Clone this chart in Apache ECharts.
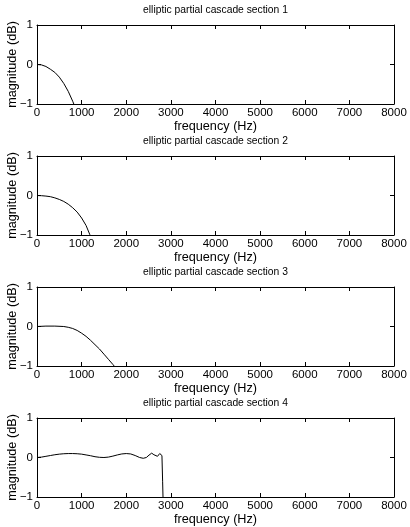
<!DOCTYPE html>
<html>
<head>
<meta charset="utf-8">
<script src="https://cdn.jsdelivr.net/npm/echarts@6/dist/echarts.min.js"></script>
<style>
html,body{margin:0;padding:0;background:#fff;}
#chart{width:410px;height:527px;}
</style>
</head>
<body>
<div id="chart"></div>
<script>
// ---- data ----
var titles = ['elliptic partial cascade section 1','elliptic partial cascade section 2','elliptic partial cascade section 3','elliptic partial cascade section 4'];
var xName = 'frequency (Hz)';
var yName = 'magnitude (dB)';
var xTicks = [0,1000,2000,3000,4000,5000,6000,7000,8000];
var yTicks = [-1,0,1];

var freq1 = [0,100,200,300,400,500,600,700,800,850,900];
var mag1  = [0,-0.01,-0.05,-0.12,-0.20,-0.32,-0.48,-0.68,-0.93,-1.07,-1.2];

var freq2 = [0,100,200,300,400,500,600,700,800,900,1000,1100,1180,1250];
var mag2  = [0,-0.005,-0.015,-0.03,-0.06,-0.10,-0.15,-0.22,-0.31,-0.42,-0.57,-0.76,-0.98,-1.2];

var freq3 = [0,200,400,600,700,800,900,1000,1100,1200,1300,1400,1500,1600,1700,1740,1800];
var mag3  = [0,0.01,0.01,0.0,-0.02,-0.05,-0.10,-0.17,-0.25,-0.35,-0.46,-0.57,-0.70,-0.83,-0.96,-1.0,-1.1];

var freq4 = [0,100,200,300,400,500,600,700,800,900,1000,1100,1200,1300,1400,1500,1600,1700,1800,1900,2000,2100,2200,2300,2380,2450,2510,2570,2620,2660,2700,2750,2780,2800,2815,2830];
var mag4  = [0,0.01,0.03,0.05,0.07,0.085,0.095,0.10,0.10,0.095,0.085,0.065,0.045,0.02,0.005,0.0,0.01,0.035,0.065,0.09,0.10,0.09,0.05,0.0,-0.02,0.0,0.06,0.11,0.07,0.02,0.03,0.10,0.12,0.05,-0.6,-1.3];

var freqs = [freq1,freq2,freq3,freq4];
var mags = [mag1,mag2,mag3,mag4];

// ---- layout ----
var FONT = "'Liberation Sans', Arial, sans-serif";
var TICKFONT = "'Liberation Sans Narrow', 'Arial Narrow', 'Liberation Sans', sans-serif";
var tops = [25,156,287,418];
var gLeft = 37, gWidth = 357, gHeight = 79;

var grid = [], xAxis = [], yAxis = [], series = [], title = [], graphic = [];
var lineStyle = {color:'#000', width:1};
tops.forEach(function(t,i){
  grid.push({left:gLeft, top:t, width:gWidth, height:gHeight, containLabel:false, outerBoundsMode:'none'});
  title.push({text:titles[i], left:gLeft+gWidth/2, top:t-20, textAlign:'center', padding:0,
    textStyle:{fontFamily:FONT, fontSize:10.3, fontWeight:'normal', color:'#000'}});
  graphic.push({type:'text', x:12, y:t+gHeight/2, rotation:Math.PI/2, silent:true,
    style:{text:yName, fontFamily:FONT, fontSize:12.7, fill:'#000', align:'center', verticalAlign:'middle'}});
  var xBase = {gridIndex:i, type:'value', min:xTicks[0], max:xTicks[xTicks.length-1], interval:xTicks[1]-xTicks[0],
    axisLine:{show:true, onZero:false, lineStyle:lineStyle}, axisTick:{show:true, inside:true, length:4, lineStyle:lineStyle},
    splitLine:{show:false}};
  xAxis.push(Object.assign({}, xBase, {position:'bottom',
    axisLabel:{show:true, margin:3, fontFamily:TICKFONT, fontSize:11.5, color:'#000',
      formatter:function(v){return String(v);}},
    name:xName, nameLocation:'middle', nameGap:16,
    nameTextStyle:{fontFamily:FONT, fontSize:12.7, color:'#000'}}));
  xAxis.push(Object.assign({}, xBase, {position:'top', axisLabel:{show:false}}));
  var yBase = {gridIndex:i, type:'value', min:yTicks[0], max:yTicks[yTicks.length-1], interval:yTicks[1]-yTicks[0],
    axisLine:{show:true, onZero:false, lineStyle:lineStyle}, axisTick:{show:true, inside:true, length:4, lineStyle:lineStyle},
    splitLine:{show:false}};
  yAxis.push(Object.assign({}, yBase, {position:'left',
    axisLabel:{show:true, margin:4, fontFamily:TICKFONT, fontSize:11.5, color:'#000',
      formatter:function(v){return v<0 ? '\u2212'+Math.abs(v) : String(v);}}}));
  yAxis.push(Object.assign({}, yBase, {position:'right', axisLabel:{show:false}}));
  series.push({type:'line', xAxisIndex:2*i, yAxisIndex:2*i, showSymbol:false, symbol:'none',
    clip:true, silent:true, animation:false, lineStyle:{color:'#000', width:1},
    data: freqs[i].map(function(f,k){return [f, mags[i][k]];})});
});

var chart = echarts.init(document.getElementById('chart'), null, {renderer:'canvas'});
chart.setOption({
  animation:false,
  backgroundColor:'#fff',
  title:title, grid:grid, xAxis:xAxis, yAxis:yAxis, series:series, graphic:graphic
});
</script>
</body>
</html>
